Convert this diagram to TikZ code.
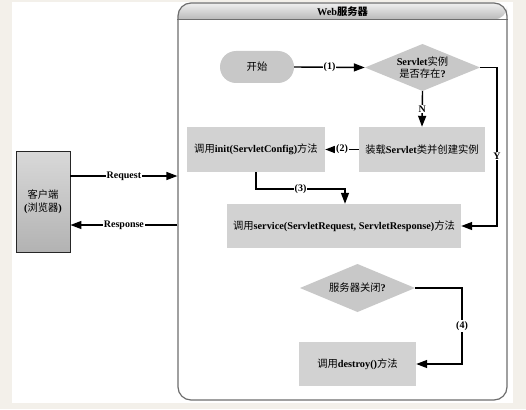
\documentclass[tikz,border=0pt]{standalone}
\usepackage{fontspec}
\setmainfont{Liberation Serif}
\newfontfamily\cjk{Noto Sans CJK SC}
\usetikzlibrary{arrows.meta,calc}
\definecolor{bgcream}{RGB}{243,240,234}
\definecolor{boxgray}{RGB}{210,210,210}
\definecolor{dmgray}{RGB}{200,200,200}
\definecolor{framegray}{RGB}{110,110,110}
\newcommand{\zh}[1]{{\cjk\mdseries #1}}
\tikzset{
  txt/.style={font=\fontsize{10.3}{12.5}\selectfont\bfseries, align=center, inner sep=0pt},
  stepbox/.style={txt, fill=boxgray, minimum width=#1},
  dia/.style={txt, minimum width=115pt, minimum height=47pt,
    path picture={\fill[dmgray] (path picture bounding box.west) -- (path picture bounding box.north)
      -- (path picture bounding box.east) -- (path picture bounding box.south) -- cycle;}},
  lbl/.style={font=\fontsize{10}{12}\selectfont\bfseries, fill=white, inner sep=1pt},
  ln/.style={line width=1.4pt, line join=miter},
  arr/.style={ln, -{Triangle[length=11pt,width=8pt]}},
}
\begin{document}
\begin{tikzpicture}[x=1pt,y=-1pt]
\useasboundingbox (0,0) rectangle (526,409);
\fill[bgcream] (0,0) rectangle (526,409);
\fill[white] (12,2) rectangle (512.5,403);
% web server frame
\shade[top color=white!88!gray, bottom color=gray!55] (178,19.5) [rounded corners=13pt] |- (342.5,3) -| (507,19.5) [sharp corners] -- cycle;
\node[draw=framegray, line width=1.2pt, rounded corners=13pt, minimum width=329pt, minimum height=397pt, inner sep=0] (web) at (342.5,201.5) {};
\draw[framegray, line width=1.2pt] (web.west |- 0,19.5) -- (web.east |- 0,19.5);
\node[txt] (title) at (342.5,11.5) {Web{\cjk\bfseries 服务器}};
% nodes
\node[txt, fill=dmgray, rounded corners=16pt, minimum width=74pt, minimum height=32pt] (start) at (257,67) {\zh{开始}};
\node[dia, fill=white] (d1) at (422.5,67.5) {Servlet\zh{实例}\\\zh{是否存在}?};
\node[stepbox=126pt, minimum height=45pt] (load) at (422,149.5) {\zh{装载}Servlet\zh{类并创建实例}};
\node[stepbox=138pt, minimum height=45pt] (init) at (256,149.5) {\zh{调用}init(ServletConfig)\zh{方法}};
\node[stepbox=234pt, minimum height=44pt] (service) at (344,226) {\zh{调用}service(ServletRequest, ServletResponse)\zh{方法}};
\node[dia, fill=white, minimum height=48pt] (d2) at (357.5,288) {\zh{服务器关闭}?};
\node[stepbox=117pt, minimum height=44pt] (destroy) at (357.5,364) {\zh{调用}destroy()\zh{方法}};
\node[txt, draw=black!85, line width=0.9pt, top color=gray!30, bottom color=gray!60, minimum width=54pt, minimum height=101pt] (client) at (43,201.5) {\zh{客户端}\\(\zh{浏览器})};
% connectors
\draw[arr] (start.east) -- node[lbl]{(1)} (d1.west);
\draw[arr] (d1.south) -- node[lbl]{N} (load.north);
\draw[arr] (load.west) -- node[lbl]{(2)} (init.east);
\draw[arr] (init.south) -- (init.south |- 0,189) -- node[lbl]{(3)} (345,189) -- (service.north -| 345,0);
\draw[arr] (d1.east) -- (d1.east -| 497,0) -- (service.east -| 497,0) -- (service.east);
\node[lbl] (ylbl) at (497,156) {Y};
\draw[arr] (d2.east) -- (d2.east -| 462,0) -- node[lbl]{(4)} (destroy.east -| 462,0) -- (destroy.east);
\draw[arr] (client.east |- 0,176) -- node[lbl]{Request} (web.west |- 0,176);
\draw[arr] (web.west |- 0,225) -- node[lbl]{Response} (client.east |- 0,225);
\end{tikzpicture}
\end{document}
